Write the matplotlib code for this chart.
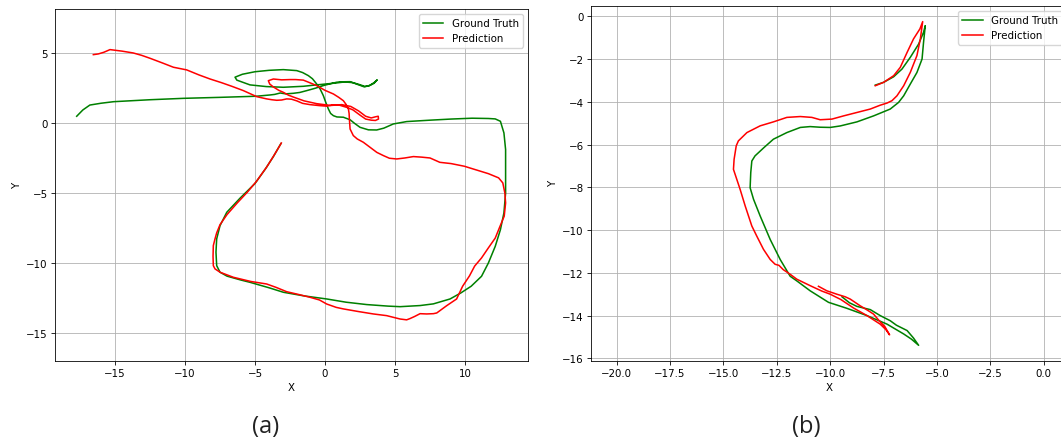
import matplotlib
matplotlib.use("Agg")
import matplotlib.pyplot as plt
import numpy as np

# ---------------- data: panel (a), (x, y) points along each trajectory ----------------
gt_a = [(-3.15, -1.45), (-3.7, -2.4), (-4.25, -3.25), (-5.0, -4.3), (-6.07, -5.35),
        (-7.02, -6.36), (-7.5, -7.31), (-7.74, -8.26), (-7.79, -9.21), (-7.74, -10.17),
        (-7.5, -10.64), (-7.0, -10.92), (-6.0, -11.2), (-5.36, -11.36), (-4.0, -11.75),
        (-2.98, -12.07), (-1.5, -12.33), (0.12, -12.55), (1.5, -12.78), (2.98, -12.95),
        (4.5, -13.06), (5.36, -13.1), (6.79, -13.02), (7.74, -12.9), (8.93, -12.55),
        (9.7, -12.12), (10.44, -11.64), (11.18, -10.93), (11.67, -9.98), (12.16, -8.79),
        (12.53, -7.6), (12.78, -6.4), (12.9, -4.98), (12.9, -3.5), (12.9, -1.88),
        (12.78, -0.69), (12.53, 0.14), (12.16, 0.31), (11.67, 0.34), (10.5, 0.36),
        (9.0, 0.3), (7.5, 0.22), (5.83, 0.12), (4.88, -0.05), (4.2, -0.35), (3.69, -0.48),
        (3.1, -0.47), (2.5, -0.29), (2.1, 0.0), (1.79, 0.25), (1.31, 0.43), (0.85, 0.45),
        (0.6, 0.54), (0.4, 0.7), (0.24, 1.02), (0.05, 1.5), (-0.12, 1.97), (-0.35, 2.45),
        (-0.6, 2.81), (-0.9, 3.18), (-1.19, 3.4), (-1.6, 3.62), (-2.02, 3.76),
        (-2.98, 3.83), (-4.0, 3.78), (-5.0, 3.68), (-5.9, 3.5), (-6.43, 3.29),
        (-6.3, 3.08), (-5.36, 2.74), (-4.2, 2.62), (-2.98, 2.57), (-1.55, 2.64),
        (-0.6, 2.74), (0.12, 2.81), (0.83, 2.88), (1.4, 2.95), (2.0, 2.9), (2.5, 2.75),
        (2.85, 2.63), (3.2, 2.7), (3.5, 2.85), (3.73, 3.1), (3.5, 2.9), (3.15, 2.68),
        (2.8, 2.6), (2.3, 2.78), (1.79, 2.97), (1.2, 2.96), (0.83, 2.93), (0.3, 2.8),
        (-0.12, 2.69), (-0.7, 2.5), (-1.31, 2.33), (-1.8, 2.2), (-2.26, 2.14),
        (-2.8, 2.1), (-3.2, 2.16), (-3.6, 2.06), (-3.93, 2.02), (-4.9, 1.93),
        (-7.5, 1.85), (-10.1, 1.78), (-12.5, 1.68), (-15.1, 1.54), (-16.0, 1.43),
        (-16.8, 1.3), (-17.3, 0.95), (-17.74, 0.5)]

pred_a = [(-3.12, -1.41), (-3.65, -2.3), (-4.15, -3.1), (-4.9, -4.15), (-5.53, -4.9),
          (-6.27, -5.69), (-7.0, -6.52), (-7.5, -7.24), (-7.74, -7.83), (-7.86, -8.26),
          (-7.98, -8.74), (-8.0, -9.5), (-7.98, -10.17), (-7.86, -10.4), (-7.5, -10.64),
          (-6.55, -11.0), (-5.3, -11.3), (-4.17, -11.48), (-3.5, -11.72), (-2.74, -12.03),
          (-1.8, -12.25), (-1.07, -12.43), (-0.4, -12.62), (0.12, -12.91), (0.8, -13.15),
          (1.31, -13.26), (2.4, -13.45), (3.45, -13.62), (4.4, -13.74), (4.88, -13.86),
          (5.36, -13.98), (5.83, -14.04), (6.07, -13.95), (6.4, -13.8), (6.79, -13.6),
          (7.26, -13.62), (7.74, -13.6), (7.98, -13.55), (8.69, -13.03), (9.4, -12.55),
          (9.83, -11.64), (10.32, -10.9), (10.69, -10.2), (11.18, -9.62), (11.67, -8.9),
          (12.16, -8.2), (12.5, -7.36), (12.8, -6.64), (12.9, -5.69), (12.85, -5.0),
          (12.7, -4.26), (12.4, -3.9), (11.67, -3.6), (10.9, -3.36), (9.95, -3.07),
          (9.0, -2.88), (8.2, -2.79), (7.5, -2.48), (6.9, -2.42), (6.31, -2.38),
          (5.7, -2.48), (5.12, -2.55), (4.6, -2.5), (4.17, -2.31), (3.7, -2.08),
          (3.21, -1.71), (2.74, -1.36), (2.3, -1.12), (2.02, -0.88), (1.79, -0.41),
          (1.74, 0.3), (1.72, 0.7), (1.67, 1.02), (1.5, 1.35), (1.31, 1.61), (0.98, 1.85),
          (0.6, 2.09), (0.0, 2.35), (-0.6, 2.69), (-0.98, 2.85), (-1.55, 3.08),
          (-2.1, 3.12), (-2.5, 3.12), (-3.1, 3.1), (-3.69, 3.16), (-4.05, 3.04),
          (-3.95, 2.8), (-3.7, 2.6), (-3.3, 2.35), (-2.98, 2.21), (-2.6, 2.0),
          (-2.2, 1.85), (-1.5, 1.6), (-0.6, 1.4), (0.4, 1.27), (1.2, 1.33), (1.84, 1.2),
          (2.4, 0.88), (2.9, 0.5), (3.3, 0.38), (3.6, 0.46), (3.8, 0.5), (3.82, 0.3),
          (3.6, 0.2), (3.3, 0.22), (2.9, 0.3), (2.5, 0.58), (2.0, 0.95), (1.6, 1.12),
          (1.0, 1.3), (0.5, 1.3), (0.12, 1.22), (-0.4, 1.26), (-1.07, 1.33), (-1.6, 1.42),
          (-2.02, 1.6), (-2.4, 1.72), (-2.74, 1.74), (-3.1, 1.66), (-3.45, 1.64),
          (-3.8, 1.68), (-4.17, 1.74), (-4.88, 1.9), (-5.83, 2.33), (-6.66, 2.64),
          (-7.4, 2.9), (-8.21, 3.16), (-9.0, 3.45), (-9.88, 3.81), (-10.83, 4.0),
          (-11.6, 4.3), (-12.5, 4.64), (-13.1, 4.85), (-13.7, 5.02), (-14.5, 5.15),
          (-15.36, 5.26), (-15.8, 5.07), (-16.2, 4.95), (-16.55, 4.9)]

# ---------------- data: panel (b) ----------------
gt_b = [(-7.89, -3.22), (-7.5, -3.09), (-7.03, -2.83), (-6.64, -2.47), (-6.25, -1.92),
        (-5.86, -1.3), (-5.63, -0.75), (-5.55, -0.44), (-5.63, -1.22), (-5.7, -2.0),
        (-5.94, -2.63), (-6.25, -3.17), (-6.56, -3.72), (-6.8, -4.03), (-7.19, -4.34),
        (-7.97, -4.66), (-8.75, -4.94), (-9.53, -5.13), (-10.0, -5.2), (-10.47, -5.19),
        (-10.94, -5.16), (-11.4, -5.2), (-12.03, -5.44), (-12.66, -5.75), (-13.1, -6.14),
        (-13.52, -6.53), (-13.67, -6.77), (-13.72, -7.31), (-13.75, -8.02),
        (-13.59, -8.56), (-13.28, -9.34), (-12.81, -10.44), (-12.34, -11.38),
        (-11.875, -12.16), (-11.56, -12.38), (-10.94, -12.84), (-10.08, -13.38),
        (-9.22, -13.66), (-8.28, -14.0), (-7.34, -14.4), (-6.56, -14.86), (-6.2, -15.1),
        (-5.86, -15.39), (-6.1, -15.05), (-6.4, -14.7), (-6.9, -14.45), (-7.19, -14.24),
        (-7.66, -14.0), (-8.125, -13.72), (-8.75, -13.57), (-9.1, -13.4), (-9.45, -13.12)]

pred_b = [(-7.89, -3.25), (-7.5, -3.09), (-7.03, -2.78), (-6.72, -2.39), (-6.4, -1.69),
          (-6.1, -1.06), (-5.8, -0.59), (-5.67, -0.25), (-5.78, -1.06), (-5.94, -1.84),
          (-6.25, -2.625), (-6.56, -3.25), (-6.875, -3.72), (-7.11, -3.95), (-7.34, -4.06),
          (-7.66, -4.16), (-8.125, -4.34), (-8.75, -4.5), (-9.375, -4.66), (-9.92, -4.81),
          (-10.47, -4.84), (-10.86, -4.73), (-11.4, -4.69), (-12.03, -4.73),
          (-12.66, -4.94), (-13.28, -5.125), (-13.9, -5.44), (-14.3, -5.83),
          (-14.4, -6.06), (-14.5, -6.69), (-14.53, -7.16), (-14.375, -7.625),
          (-14.22, -8.09), (-13.98, -8.875), (-13.67, -9.81), (-13.44, -10.28),
          (-13.125, -10.9), (-12.81, -11.375), (-12.58, -11.6), (-12.4, -11.65),
          (-12.2, -11.85), (-11.9, -12.05), (-11.56, -12.3), (-10.94, -12.6),
          (-10.4, -12.85), (-10.0, -13.0), (-9.5, -13.25), (-9.2, -13.45), (-8.9, -13.65),
          (-8.28, -14.0), (-7.66, -14.4), (-7.4, -14.65), (-7.22, -14.9), (-7.45, -14.5),
          (-7.7, -14.25), (-7.97, -13.93), (-8.3, -13.72), (-8.6, -13.54),
          (-9.06, -13.23), (-9.3, -13.12), (-9.69, -13.0), (-10.16, -12.84),
          (-10.55, -12.63)]

labels = ["Ground Truth", "Prediction"]
captions = ["(a)", "(b)"]

# ---------------- style ----------------
s = 0.74
plt.rcParams.update({
    "font.size": 10 * s,
    "axes.linewidth": 0.8 * s,
    "lines.linewidth": 1.5 * s,
    "xtick.major.size": 3.5 * s, "ytick.major.size": 3.5 * s,
    "xtick.major.width": 0.8 * s, "ytick.major.width": 0.8 * s,
    "xtick.major.pad": 3.5 * s, "ytick.major.pad": 3.5 * s,
    "grid.linewidth": 0.8 * s,
    "axes.labelpad": 4.0 * s,
})

W, H = 1061, 439
fig = plt.figure(figsize=(W / 100, H / 100), dpi=100)


def draw(ax, gt, pred):
    gx, gy = zip(*gt)
    px, py = zip(*pred)
    ax.plot(gx, gy, color="green", label=labels[0])
    ax.plot(px, py, color="red", label=labels[1])
    ax.set_xlabel("X")
    ax.set_ylabel("Y")
    ax.grid(True)
    ax.legend(loc="upper right")


ax1 = fig.add_axes([55 / W, 1 - 362 / H, 473 / W, 352 / H])
draw(ax1, gt_a, pred_a)
ax1.set_xlim(-19.29, 14.5)
ax1.set_ylim(-16.98, 8.16)
ax1.set_xticks([-15, -10, -5, 0, 5, 10])
ax1.set_yticks([-15, -10, -5, 0, 5])

ax2 = fig.add_axes([591 / W, 1 - 361.7 / H, 476.5 / W, 354.7 / H])
draw(ax2, gt_b, pred_b)
ax2.set_xlim(-21.2, 1.11)
ax2.set_ylim(-16.11, 0.48)
ax2.set_xticks(np.arange(-20, 0.1, 2.5))
ax2.set_yticks(np.arange(-16, 0.1, 2))

for cap, xc in zip(captions, [266, 806]):
    fig.text(xc / W, 1 - 433 / H, cap, ha="center", va="baseline", fontsize=17,
             family=["Open Sans", "DejaVu Sans"], color="#222222")

fig.savefig("out.png", dpi=100)
